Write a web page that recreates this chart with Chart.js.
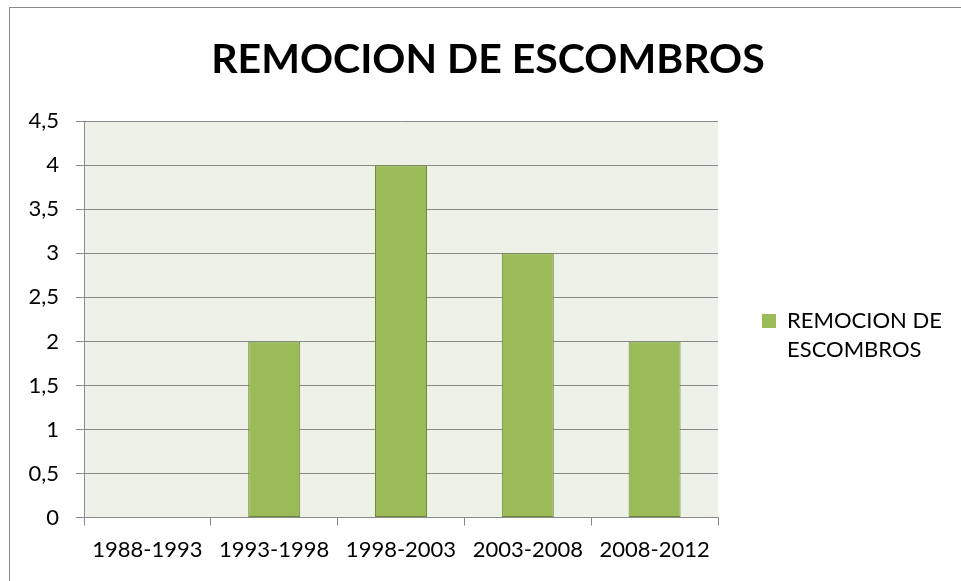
<!DOCTYPE html>
<html>
<head>
<meta charset="utf-8">
<script src="https://cdn.jsdelivr.net/npm/chart.js@4.4.0/dist/chart.umd.min.js"></script>
<style>
  html, body { margin: 0; padding: 0; background: #ffffff; }
  #frame { position: absolute; left: 9px; top: 7px; width: 1000px; height: 1000px; border: 1px solid #8a8a8a; box-sizing: border-box; }
  #wrap { position: absolute; left: 0; top: 0; width: 961px; height: 581px; }
</style>
</head>
<body>
<div id="frame"></div>
<div id="wrap"><canvas id="c" width="961" height="581"></canvas></div>
<script>
const chartTitle = 'REMOCION DE ESCOMBROS';
const categories = ['1988-1993', '1993-1998', '1998-2003', '2003-2008', '2008-2012'];
const seriesName = ['REMOCION DE', 'ESCOMBROS'];
const seriesValues = [0, 2, 4, 3, 2];
const yTickLabels = ['0', '0,5', '1', '1,5', '2', '2,5', '3', '3,5', '4', '4,5'];

const FONT = 'Lato, "Open Sans", sans-serif';

const plotBg = {
  id: 'plotBg',
  beforeDraw(chart) {
    const a = chart.chartArea, ctx = chart.ctx;
    ctx.save();
    ctx.fillStyle = '#eef1e8';
    ctx.fillRect(a.left, a.top, a.right - a.left, a.bottom - a.top);
    ctx.restore();
  }
};

new Chart(document.getElementById('c'), {
  type: 'bar',
  data: {
    labels: categories,
    datasets: [{
      label: seriesName,
      data: seriesValues,
      backgroundColor: '#9bbb59',
      borderColor: '#6f8a3c',
      borderWidth: (ctx) => (ctx.raw === 0 ? 0 : 1),
      borderSkipped: false,
      barPercentage: 0.41,
      categoryPercentage: 1.0
    }]
  },
  options: {
    responsive: false,
    animation: false,
    devicePixelRatio: 1,
    layout: { padding: { left: 28, right: 13, top: 0, bottom: 7 } },
    plugins: {
      title: {
        display: true,
        text: chartTitle,
        color: '#000000',
        font: { family: FONT, size: 41, weight: 'bold' },
        padding: { top: 35, bottom: 37 }
      },
      legend: {
        display: true,
        position: 'right',
        fullSize: false,
        title: {
          display: true,
          text: ' ',
          padding: 0,
          font: { family: FONT, size: 10, lineHeight: 4.0 }
        },
        labels: {
          color: '#000000',
          font: { family: FONT, size: 22, lineHeight: 1.34 },
          boxWidth: 14,
          boxHeight: 14,
          padding: 44,
          generateLabels(chart) {
            const ds = chart.data.datasets[0];
            return [{
              text: seriesName,
              fillStyle: ds.backgroundColor,
              strokeStyle: ds.backgroundColor,
              lineWidth: 0,
              fontColor: '#000000',
              datasetIndex: 0
            }];
          }
        }
      },
      tooltip: { enabled: false }
    },
    scales: {
      x: {
        offset: true,
        grid: {
          offset: true,
          drawOnChartArea: false,
          drawTicks: true,
          tickLength: 8,
          color: '#8a8a8a'
        },
        border: { display: true, color: '#8a8a8a' },
        ticks: {
          color: '#000000',
          font: { family: FONT, size: 22 },
          padding: 11,
          maxRotation: 0,
          autoSkip: false
        }
      },
      y: {
        min: 0,
        max: 4.5,
        afterFit: (scale) => { scale.width = 56; },
        grid: {
          color: '#8a8a8a',
          drawTicks: true,
          tickLength: 8
        },
        border: { display: true, color: '#8a8a8a' },
        ticks: {
          stepSize: 0.5,
          color: '#000000',
          font: { family: FONT, size: 22 },
          padding: 17,
          callback: (v, i) => yTickLabels[i]
        }
      }
    }
  },
  plugins: [plotBg]
});
</script>
</body>
</html>
